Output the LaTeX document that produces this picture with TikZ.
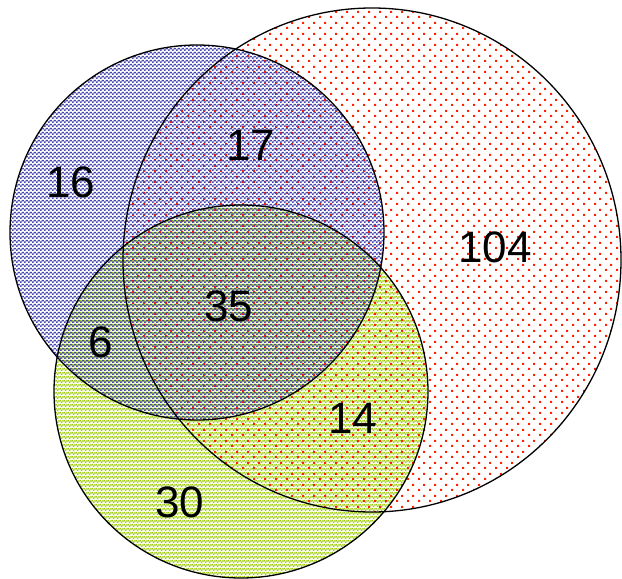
\documentclass[tikz,border=0pt]{standalone}
\usepackage{fontspec}
\setmainfont{Liberation Sans}
\usetikzlibrary{patterns.meta}
\definecolor{redpat}{RGB}{255,34,0}
\definecolor{bluepat}{RGB}{70,70,175}
\definecolor{greenpat}{RGB}{153,204,0}
\pgfdeclarepattern{
  name=reddots, type=colored,
  bottom left={\pgfpoint{0pt}{0pt}},
  top right={\pgfpoint{11pt}{11pt}},
  tile size={\pgfpoint{11pt}{11pt}},
  code={
    \pgfsetfillcolor{redpat}
    \pgfpathrectangle{\pgfpoint{0pt}{0pt}}{\pgfpoint{2.3pt}{2.3pt}}
    \pgfpathrectangle{\pgfpoint{5.5pt}{5.5pt}}{\pgfpoint{2.3pt}{2.3pt}}
    \pgfusepath{fill}
  }
}
\pgfdeclarepattern{
  name=bluechecks, type=colored,
  bottom left={\pgfpoint{0pt}{0pt}},
  top right={\pgfpoint{4pt}{4pt}},
  tile size={\pgfpoint{4pt}{4pt}},
  code={
    \pgfsetfillcolor{bluepat}
    \pgfpathrectangle{\pgfpoint{0pt}{0pt}}{\pgfpoint{2pt}{2pt}}
    \pgfpathrectangle{\pgfpoint{2pt}{2pt}}{\pgfpoint{2pt}{2pt}}
    \pgfusepath{fill}
  }
}
\pgfdeclarepattern{
  name=greenchecks, type=colored,
  bottom left={\pgfpoint{0pt}{0pt}},
  top right={\pgfpoint{4pt}{4pt}},
  tile size={\pgfpoint{4pt}{4pt}},
  code={
    \pgfsetfillcolor{greenpat}
    \pgfpathrectangle{\pgfpoint{1pt}{0pt}}{\pgfpoint{2pt}{2pt}}
    \pgfpathrectangle{\pgfpoint{3pt}{2pt}}{\pgfpoint{1pt}{2pt}}
    \pgfpathrectangle{\pgfpoint{0pt}{2pt}}{\pgfpoint{1pt}{2pt}}
    \pgfusepath{fill}
  }
}
\tikzset{
  setline/.style={draw=black, line width=1.3pt},
  numlabel/.style={inner sep=0pt, font=\fontsize{44}{44}\selectfont}
}
\begin{document}
\begin{tikzpicture}[x=1pt, y=-1pt]
\useasboundingbox (0,0) rectangle (622,579);
% fills
\fill[pattern=greenchecks] (241,391.5) ellipse [x radius=187, y radius=186.5];
\fill[pattern=reddots] (372,260) ellipse [x radius=249, y radius=252];
\fill[pattern=bluechecks] (197,232.5) ellipse [x radius=187, y radius=187.5];
% outlines
\draw[setline] (372,260) ellipse [x radius=249, y radius=252];
\draw[setline] (241,391.5) ellipse [x radius=187, y radius=186.5];
\draw[setline] (197,232.5) ellipse [x radius=187, y radius=187.5];
% labels
\node[numlabel] (n16) at (71,182) {16};
\node[numlabel] (n17) at (251,145) {17};
\node[numlabel] (n104) at (495,247) {104};
\node[numlabel] (n35) at (229,306) {35};
\node[numlabel] (n6) at (101,342) {6};
\node[numlabel] (n14) at (353,418) {14};
\node[numlabel] (n30) at (180,502) {30};
\end{tikzpicture}
\end{document}
